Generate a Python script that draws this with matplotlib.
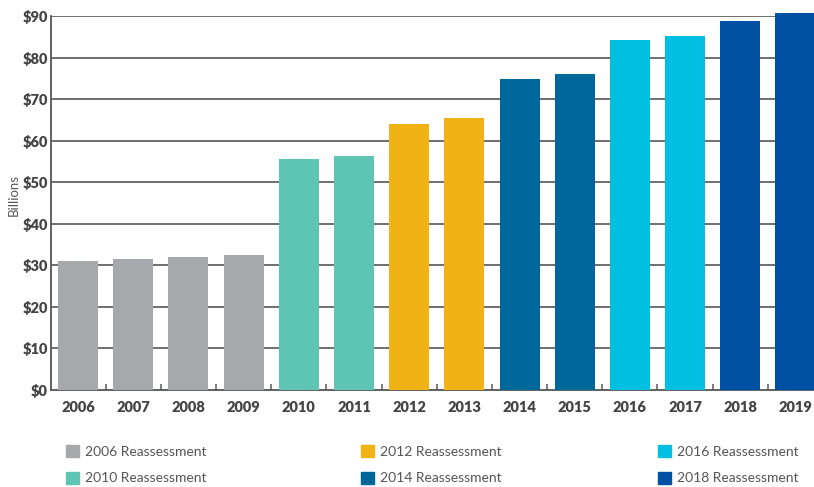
import numpy as np
import matplotlib.pyplot as plt
from matplotlib.patches import Patch

plt.rcParams['font.family'] = ['Lato', 'DejaVu Sans']

years = ['2006', '2007', '2008', '2009', '2010', '2011', '2012',
         '2013', '2014', '2015', '2016', '2017', '2018', '2019']
values = [31.0, 31.5, 32.0, 32.5, 55.6, 56.3, 64.1,
          65.4, 74.8, 76.0, 84.2, 85.2, 88.8, 90.7]
groups = ['2006 Reassessment', '2006 Reassessment', '2006 Reassessment', '2006 Reassessment',
          '2010 Reassessment', '2010 Reassessment', '2012 Reassessment', '2012 Reassessment',
          '2014 Reassessment', '2014 Reassessment', '2016 Reassessment', '2016 Reassessment',
          '2018 Reassessment', '2018 Reassessment']
group_names = ['2006 Reassessment', '2010 Reassessment', '2012 Reassessment',
               '2014 Reassessment', '2016 Reassessment', '2018 Reassessment']
group_colors = ['#a7a8ac', '#5ec4b4', '#f0b214', '#00679a', '#00bfe0', '#0051a3']
yticks = [0, 10, 20, 30, 40, 50, 60, 70, 80, 90]

colour_of = dict(zip(group_names, group_colors))

W, H = 814, 487
fig = plt.figure(figsize=(W / 100, H / 100), dpi=100)
ax = fig.add_axes([50.5 / W, (H - 390) / H, (823 - 50.5) / W, (390 - 16) / H])

x = np.arange(len(years))
bars = ax.bar(x, values, width=0.725, color=[colour_of[g] for g in groups], zorder=3)
for b in bars:
    b.set_clip_on(False)  # 2019 pokes above the $90 line

ax.set_xlim(-0.5, len(years) - 0.5)
ax.set_ylim(0, 90)
ax.set_yticks(yticks)
ax.set_yticklabels(['$' + str(v) for v in yticks], fontweight='heavy', fontsize=10.5, color='#444444')
ax.set_xticks(x)
ax.set_xticklabels(years, fontweight='heavy', fontsize=10.5, color='#444444')
ax.tick_params(axis='x', length=0, pad=8)
ax.tick_params(axis='y', length=0, pad=2)

# little separators between the year slots
ax.set_xticks(np.arange(0.5, len(years) - 1, 1), minor=True)
ax.tick_params(axis='x', which='minor', direction='in', length=4, width=1.2, color='#666666')

for v in yticks[1:]:
    ax.axhline(v, color='#6f6f6f', lw=1.4, zorder=1)

for s in ['top', 'right']:
    ax.spines[s].set_visible(False)
for s in ['left', 'bottom']:
    ax.spines[s].set_color('#555555')
    ax.spines[s].set_linewidth(1.3)

fig.text(14 / W, 1 - 195 / H, 'Billions', rotation=90, ha='center', va='center',
         fontsize=9.5, color='#555555')

# legend: three columns of two entries each
col_x = [66, 361, 658]
for i, cx in enumerate(col_x):
    handles = [Patch(color=colour_of[n], label=n) for n in group_names[2 * i:2 * i + 2]]
    leg = fig.legend(handles=handles, loc='upper left',
                     bbox_to_anchor=(cx / W, 1 - 445 / H), frameon=False,
                     fontsize=10, handlelength=0.95, handleheight=0.95,
                     handletextpad=0.4, labelspacing=1.0, borderpad=0,
                     borderaxespad=0)
    for t in leg.get_texts():
        t.set_color('#555555')

fig.savefig('out.png', dpi=100)
